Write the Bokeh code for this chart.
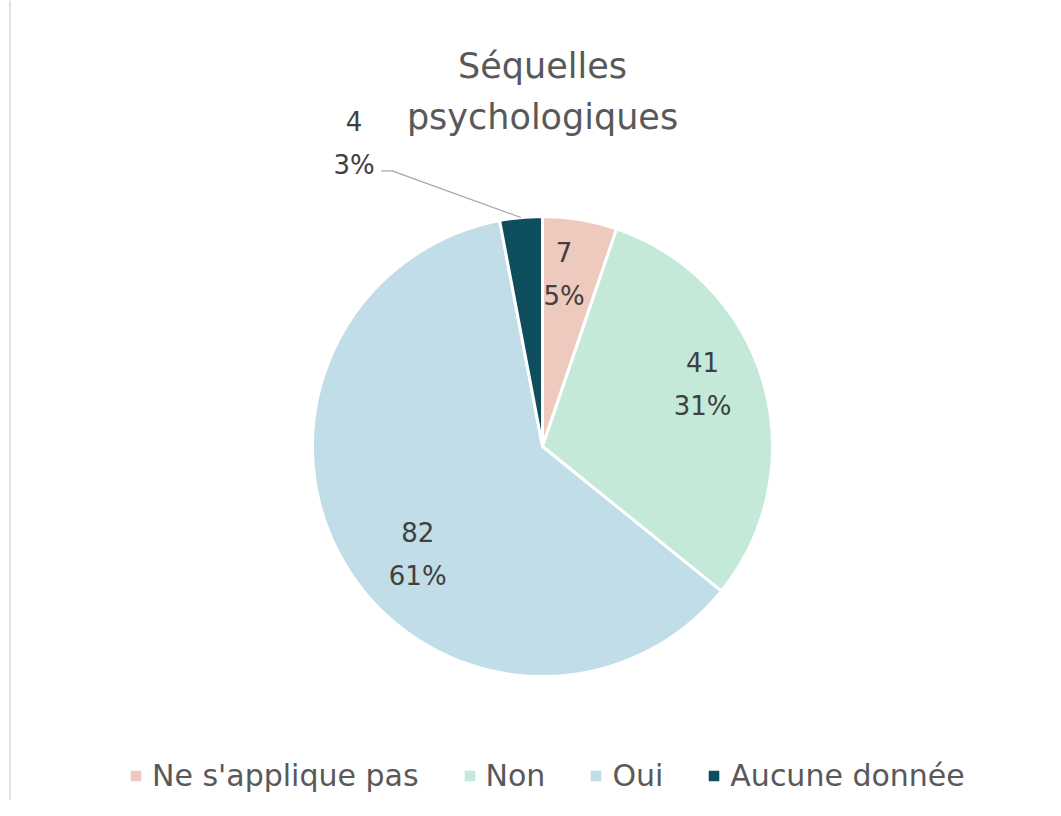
import numpy as np
from bokeh.plotting import figure
from bokeh.models import Range1d, Legend, LegendItem, Span
from bokeh.core.properties import value
from bokeh.embed import file_html
from bokeh.resources import INLINE

# ---- data ----
categories = ["Ne s'applique pas", "Non", "Oui", "Aucune donnée"]
counts = [7, 41, 82, 4]
percent_labels = ["5%", "31%", "61%", "3%"]
colors = ["#EDCABD", "#C4E9D8", "#C1DDE7", "#0E4D5E"]
title_lines = ["Séquelles", "psychologiques"]

# label placement (clockwise degrees from top, fraction of radius)
label_angle_deg = [7.2, 69.1, 228.9, 328.1]
label_r_frac = [0.75, 0.745, 0.72, 1.55]
outside = [False, False, False, True]

FONT = "DejaVu Sans"
W, H = 1045, 800
# data units == screen pixels (x = x_img, y = 816 - y_img)
p = figure(width=W, height=H, x_range=Range1d(0, W), y_range=Range1d(816 - H, 816),
           output_backend="svg", toolbar_location=None, min_border=0,
           x_axis_type=None, y_axis_type=None)
p.grid.visible = False
p.outline_line_color = None
p.background_fill_color = "white"
p.border_fill_color = "white"

# faint chart-area border (left edge visible)
p.add_layout(Span(location=9.5, dimension="height", line_color="#D9D9D9", line_width=1.5))

cx, cy, R = 542, 816 - 446, 230
total = sum(counts)
cum = np.cumsum([0] + counts)
start_math = np.pi / 2 - 2 * np.pi * cum[1:] / total
end_math = np.pi / 2 - 2 * np.pi * cum[:-1] / total

renderers = []
for i, cat in enumerate(categories):
    r = p.wedge(x=cx, y=cy, radius=R, start_angle=start_math[i], end_angle=end_math[i],
                direction="anticlock", fill_color=colors[i], line_color="white", line_width=3)
    renderers.append(r)

TXT_SHIFT = 11  # compensate baseline rendering

# data labels
lx, ly = [], []
for a, f in zip(label_angle_deg, label_r_frac):
    th = np.radians(a)
    lx.append(cx + f * R * np.sin(th))
    ly.append(cy + f * R * np.cos(th))
lx, ly = np.array(lx), np.array(ly)
p.text(x=lx, y=ly + 12 + TXT_SHIFT, text=[str(c) for c in counts], text_align="center",
       text_baseline="alphabetic", text_font=value(FONT), text_font_size="26px",
       text_color="#404040")
p.text(x=lx, y=ly - 32 + TXT_SHIFT, text=percent_labels, text_align="center",
       text_baseline="alphabetic", text_font=value(FONT), text_font_size="26px",
       text_color="#404040")

# leader line for outside label
for i, o in enumerate(outside):
    if o:
        mid = (cum[i] + cum[i + 1]) / 2 / total * 2 * np.pi
        ex, ey = cx + R * np.sin(mid), cy + R * np.cos(mid)
        sx, sy = lx[i] + 27, ly[i] - 27
        p.line(x=[sx, sx + 11, ex], y=[sy, sy, ey], line_color="#A6A6A6", line_width=1.2)

# title
p.text(x=[cx, cx], y=[816 - 76 + TXT_SHIFT, 816 - 127 + TXT_SHIFT], text=title_lines,
       text_align="center", text_baseline="alphabetic", text_font=value(FONT),
       text_font_size="35px", text_color="#595959")

legend = Legend(items=[LegendItem(label=c, renderers=[r]) for c, r in zip(categories, renderers)],
                orientation="horizontal", location=(127, 7), glyph_width=17, glyph_height=17,
                label_standoff=8, spacing=42, padding=0, margin=0,
                border_line_color=None, background_fill_alpha=0,
                label_text_font=FONT, label_text_font_size="30px", label_text_color="#595959")
p.add_layout(legend)

open("out.html", "w").write(file_html(p, INLINE))
